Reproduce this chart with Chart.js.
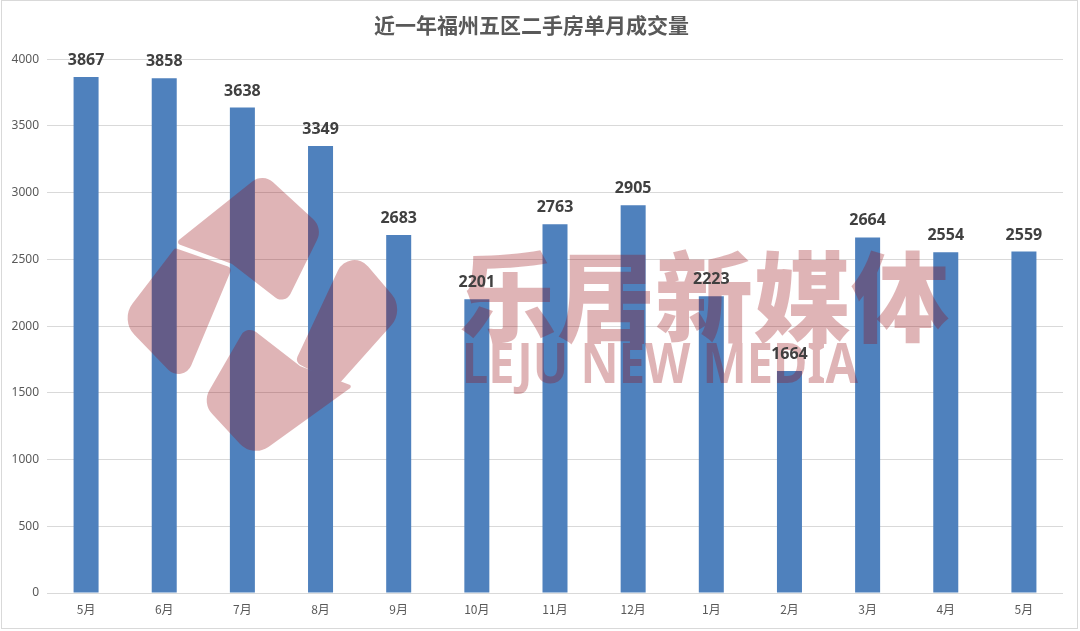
<!DOCTYPE html>
<html>
<head>
<meta charset="utf-8">
<script src="https://cdn.jsdelivr.net/npm/chart.js@4.4.1/dist/chart.umd.min.js"></script>
<style>
  html, body { margin: 0; padding: 0; background: #fff; }
  #wrap { position: relative; width: 1080px; height: 631px; }
</style>
</head>
<body>
<div id="wrap"><canvas id="dealChart"></canvas></div>
<script>
// ===== DATA =====
const months = ["5月", "6月", "7月", "8月", "9月", "10月", "11月", "12月", "1月", "2月", "3月", "4月", "5月"];
const deals = [3867, 3858, 3638, 3349, 2683, 2201, 2763, 2905, 2223, 1664, 2664, 2554, 2559];
const yMin = 0;
const yMax = 4000;
const yStep = 500;
const chartTitle = "近一年福州五区二手房单月成交量";
const markCn = "乐居新媒体";
const markEn = "LEJU NEW MEDIA";

const BAR_BLUE = "#4F81BD";
const GRID_GREY = "#D9D9D9";
const TEXT_GREY = "#595959";
const MARK_RED = "rgba(150,8,12,0.3)";

// ===== WATERMARK =====
// polygon with its own corner radius at each vertex
function roundPoly(g, pts, radii) {
  const n = pts.length;
  const a = pts[n - 1], b = pts[0];
  g.beginPath();
  g.moveTo((a[0] + b[0]) / 2, (a[1] + b[1]) / 2);
  for (let i = 0; i < n; i++) {
    const p = pts[i];
    const q = pts[(i + 1) % n];
    g.arcTo(p[0], p[1], q[0], q[1], radii[i]);
  }
  g.closePath();
}

// logo: pinwheel of four rounded blocks
const logoPieces = [
  { pts: [[263, 173], [323, 228], [285, 305], [232, 264], [175, 243]], r: [16, 18, 10, 3, 3] },
  { pts: [[175, 248], [232, 268], [183, 385], [120, 320]], r: [3, 4, 14, 24] },
  { pts: [[247, 325], [300, 366], [353, 386], [253, 458], [202, 403]], r: [10, 3, 2, 22, 20] },
  { pts: [[350, 245], [405, 310], [338, 385], [295, 362]], r: [18, 24, 6, 6] }
];

function buildWatermark(w, h) {
  const off = document.createElement("canvas");
  off.width = w;
  off.height = h;
  const g = off.getContext("2d");
  g.fillStyle = "#000";

  logoPieces.forEach(p => {
    roundPoly(g, p.pts, p.r);
    g.fill();
  });

  g.textBaseline = "middle";
  g.textAlign = "left";
  g.font = "900 98px 'Noto Sans CJK SC'";
  g.fillText(markCn, 459, 297, 494);
  g.font = "bold 55px 'Noto Sans', 'DejaVu Sans'";
  g.fillText(markEn, 462, 367, 396);

  // recolour everything as one flat translucent layer
  g.globalCompositeOperation = "source-in";
  g.fillStyle = MARK_RED;
  g.fillRect(0, 0, w, h);
  return off;
}

const watermark = {
  id: "watermark",
  afterDatasetsDraw(chart) {
    if (!chart.$mark) chart.$mark = buildWatermark(chart.width, chart.height);
    chart.ctx.drawImage(chart.$mark, 0, 0, chart.width, chart.height);
  }
};

// ===== VALUE LABELS =====
const valueLabels = {
  id: "valueLabels",
  afterDatasetsDraw(chart) {
    const ctx = chart.ctx;
    const meta = chart.getDatasetMeta(0);
    ctx.save();
    ctx.font = "bold 16px 'Noto Sans', 'Noto Sans CJK SC'";
    ctx.fillStyle = "#404040";
    ctx.textAlign = "center";
    ctx.textBaseline = "alphabetic";
    meta.data.forEach((bar, i) => {
      ctx.fillText(String(deals[i]), bar.x, bar.y - 12);
    });
    ctx.restore();
  }
};

// ===== OUTER FRAME =====
const frame = {
  id: "frame",
  afterDraw(chart) {
    const ctx = chart.ctx;
    ctx.save();
    ctx.strokeStyle = GRID_GREY;
    ctx.lineWidth = 1;
    ctx.strokeRect(1.5, 0.5, chart.width - 4, chart.height - 3);
    ctx.restore();
  }
};

// ===== CHART =====
const ctx = document.getElementById("dealChart").getContext("2d");

const dealChart = new Chart(ctx, {
  type: "bar",
  data: {
    labels: months,
    datasets: [{
      label: "成交量",
      data: deals,
      backgroundColor: BAR_BLUE,
      borderWidth: 0,
      barPercentage: 0.32,
      categoryPercentage: 1
    }]
  },
  options: {
    responsive: true,
    maintainAspectRatio: false,
    animation: false,
    devicePixelRatio: 1,
    layout: { padding: { left: 0, right: 17, top: 0, bottom: 0 } },
    plugins: {
      legend: { display: false },
      tooltip: { enabled: false },
      title: {
        display: true,
        text: chartTitle,
        color: TEXT_GREY,
        font: { family: "'Noto Sans CJK SC'", size: 21, weight: "bold", lineHeight: 1.2 },
        padding: { top: 12, bottom: 22 }
      }
    },
    scales: {
      x: {
        grid: { display: false, drawTicks: false },
        border: { display: false },
        ticks: {
          color: TEXT_GREY,
          font: { family: "'Noto Sans CJK SC'", size: 12 },
          padding: 9,
          maxRotation: 0,
          autoSkip: false
        },
        afterFit(scale) { scale.height = 631 - 593; }
      },
      y: {
        min: yMin,
        max: yMax,
        grid: { color: GRID_GREY, lineWidth: 1, drawTicks: false },
        border: { display: false },
        ticks: {
          stepSize: yStep,
          color: TEXT_GREY,
          font: { family: "'Noto Sans', 'DejaVu Sans'", size: 12 },
          padding: 8,
          callback: v => String(v)
        },
        afterFit(scale) { scale.width = 47; }
      }
    }
  },
  plugins: [watermark, valueLabels, frame]
});
</script>
</body>
</html>
